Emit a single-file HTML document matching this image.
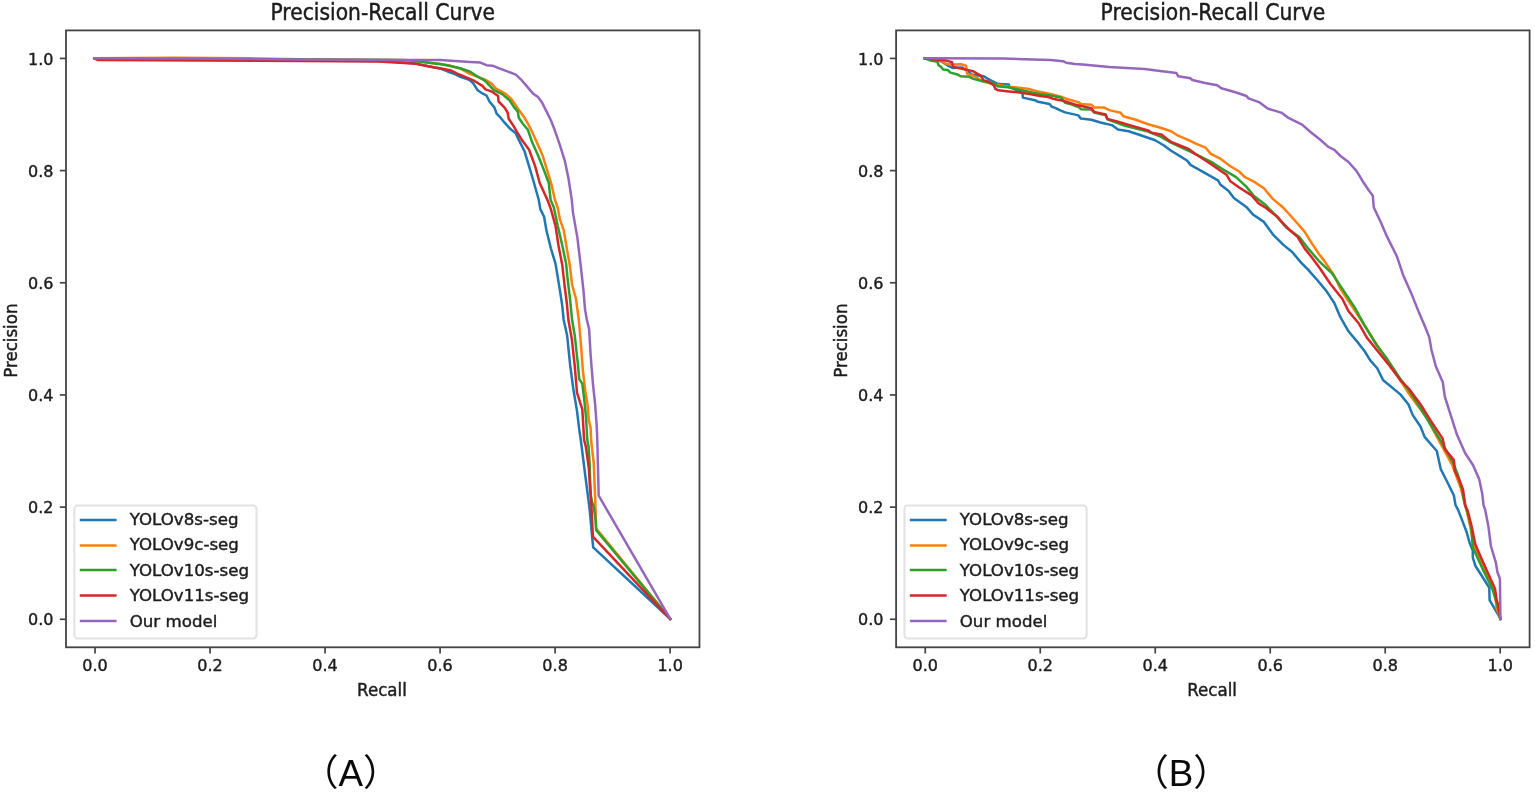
<!DOCTYPE html>
<html lang="en">
<head>
<meta charset="utf-8">
<title>Precision-Recall Curve</title>
<style>
html,body{margin:0;padding:0;background:#fff;}
body{width:1535px;height:792px;overflow:hidden;position:relative;}
svg{position:absolute;left:0;top:0;display:block;}
text{font-family:"DejaVu Sans","Liberation Sans",sans-serif;fill:#1c1c1c;stroke:#1c1c1c;stroke-width:0.42px;}
.tk{font-size:16.67px;}
.ttl{font-size:20px;}
.cap{font-family:"Liberation Sans","Noto Sans CJK JP",sans-serif;font-size:36.8px;fill:#0a0a0a;stroke:none;}
.ln{fill:none;stroke-width:2.5;stroke-linejoin:round;stroke-linecap:square;}
.tkm{fill:none;stroke:#444444;stroke-width:1.7;stroke-linecap:butt;}
.ax{fill:none;stroke:#444444;stroke-width:1.8;stroke-linecap:square;}
</style>
</head>
<body>
<svg width="1535" height="792" viewBox="0 0 1535 792">
<rect x="0" y="0" width="1535" height="792" fill="#ffffff"/>

<g id="plot1">
<polyline class="ln" stroke="#1f77b4" points="94.3,58.4 174.0,58.8 300.0,60.2 378.0,61.0 400.0,62.2 415.7,63.6 428.2,66.3 440.0,68.4 448.1,71.7 454.1,73.7 460.2,76.8 469.3,79.8 473.3,83.3 477.4,89.9 482.4,93.4 486.5,95.5 489.5,101.5 494.5,107.6 496.6,113.6 500.6,117.7 504.6,122.7 510.7,129.3 515.5,133.0 519.2,140.6 524.5,151.2 529.1,166.4 533.6,181.5 538.8,200.0 540.3,209.1 544.1,216.7 546.4,230.3 550.9,248.5 555.5,263.6 560.0,290.9 562.3,306.1 563.7,320.0 567.1,335.2 570.2,365.5 573.2,388.2 577.0,410.9 579.2,429.1 580.8,440.0 584.7,471.0 589.6,508.8 592.1,536.7 593.2,547.4 670.2,618.9"/>
<polyline class="ln" stroke="#ff7f0e" points="94.3,58.3 174.0,57.8 250.0,58.3 300.0,59.3 393.8,59.9 409.4,60.3 434.5,63.3 440.0,63.9 450.1,65.6 460.2,68.6 464.2,70.7 469.3,73.7 484.4,79.3 491.5,83.3 495.6,88.4 505.7,93.9 511.7,99.5 518.8,109.6 523.8,116.7 527.9,123.7 530.9,129.3 536.7,142.1 542.7,155.8 547.3,170.9 551.1,183.0 555.0,200.0 557.7,207.6 560.0,219.7 563.8,230.3 566.8,248.5 569.8,265.2 572.1,284.8 575.9,298.5 578.8,320.0 580.8,342.7 583.0,371.5 585.3,391.2 587.6,404.8 588.8,420.0 590.6,427.6 591.1,440.0 593.7,462.8 595.4,503.9 596.2,528.5 670.2,618.9"/>
<polyline class="ln" stroke="#2ca02c" points="94.3,58.4 170.0,59.4 200.0,59.6 300.0,59.6 393.8,60.0 409.4,60.3 434.5,63.5 440.0,64.1 450.1,66.0 460.2,68.2 470.3,71.7 475.4,75.3 484.4,80.3 489.5,85.4 493.5,89.9 502.6,94.4 509.7,100.5 513.7,106.6 517.8,111.6 518.8,117.7 522.8,123.7 527.9,129.8 532.1,142.1 538.2,155.8 544.2,170.9 548.8,183.0 550.6,200.0 553.9,207.6 557.7,225.8 562.3,245.5 566.1,263.6 567.6,278.8 569.8,297.0 572.1,320.0 574.7,335.2 577.7,362.4 579.2,379.1 582.3,383.6 584.5,401.8 586.1,418.5 587.3,440.0 588.5,446.4 589.6,462.8 590.1,479.3 590.9,495.7 592.1,502.2 593.7,506.4 595.4,518.7 596.2,530.2 670.2,618.9"/>
<polyline class="ln" stroke="#d62728" points="94.3,58.4 97.5,60.0 200.0,60.5 300.0,61.0 378.2,61.5 400.0,62.7 415.7,63.8 434.5,67.4 440.0,68.2 450.1,70.2 457.2,73.7 465.3,76.8 473.3,80.3 482.4,85.9 485.5,89.4 492.5,91.9 498.1,96.0 498.6,101.5 504.6,107.6 507.7,112.6 508.7,118.7 512.7,124.7 515.8,129.8 518.5,134.5 522.3,140.6 529.1,149.7 535.2,166.4 539.7,183.0 547.5,200.0 550.9,209.1 555.5,225.8 558.5,245.5 562.3,265.2 564.5,284.8 566.8,303.0 568.4,320.0 571.7,338.2 574.7,365.5 577.0,392.7 582.3,409.4 583.3,426.1 584.1,440.0 585.8,446.4 588.8,467.8 590.0,487.5 591.3,503.9 592.1,520.3 592.9,536.7 670.2,618.9"/>
<polyline class="ln" stroke="#9467bd" points="94.3,58.3 200.0,58.6 300.0,59.4 393.8,59.9 440.0,60.1 455.2,60.9 470.3,61.9 480.4,62.6 486.5,65.2 492.5,65.7 498.6,68.2 506.7,71.2 515.8,74.7 520.8,79.3 526.9,86.4 532.9,93.4 538.0,97.0 542.0,102.5 547.1,112.6 551.1,120.7 554.6,129.8 559.4,143.6 564.7,160.3 568.5,178.5 571.8,200.0 572.9,212.1 577.4,237.9 580.5,263.6 583.5,290.9 585.0,309.1 586.9,320.0 589.1,329.1 590.6,354.8 592.9,383.6 595.2,404.8 596.7,426.1 597.3,440.0 598.7,495.7 670.2,618.9"/>
<line class="tkm" x1="95.05" y1="647.3" x2="95.05" y2="653.50"/>
<line class="tkm" x1="66.0" y1="619.26" x2="59.80" y2="619.26"/>
<text class="tk" transform="translate(95.05 670.96) scale(0.96 1.0)" text-anchor="middle">0.0</text>
<text class="tk" transform="translate(53.44 625.46) scale(0.96 1.0)" text-anchor="end">0.0</text>
<line class="tkm" x1="210.06" y1="647.3" x2="210.06" y2="653.50"/>
<line class="tkm" x1="66.0" y1="507.10" x2="59.80" y2="507.10"/>
<text class="tk" transform="translate(210.06 670.96) scale(0.96 1.0)" text-anchor="middle">0.2</text>
<text class="tk" transform="translate(53.44 513.30) scale(0.96 1.0)" text-anchor="end">0.2</text>
<line class="tkm" x1="325.07" y1="647.3" x2="325.07" y2="653.50"/>
<line class="tkm" x1="66.0" y1="394.93" x2="59.80" y2="394.93"/>
<text class="tk" transform="translate(325.07 670.96) scale(0.96 1.0)" text-anchor="middle">0.4</text>
<text class="tk" transform="translate(53.44 401.13) scale(0.96 1.0)" text-anchor="end">0.4</text>
<line class="tkm" x1="440.08" y1="647.3" x2="440.08" y2="653.50"/>
<line class="tkm" x1="66.0" y1="282.77" x2="59.80" y2="282.77"/>
<text class="tk" transform="translate(440.08 670.96) scale(0.96 1.0)" text-anchor="middle">0.6</text>
<text class="tk" transform="translate(53.44 288.97) scale(0.96 1.0)" text-anchor="end">0.6</text>
<line class="tkm" x1="555.09" y1="647.3" x2="555.09" y2="653.50"/>
<line class="tkm" x1="66.0" y1="170.60" x2="59.80" y2="170.60"/>
<text class="tk" transform="translate(555.09 670.96) scale(0.96 1.0)" text-anchor="middle">0.8</text>
<text class="tk" transform="translate(53.44 176.80) scale(0.96 1.0)" text-anchor="end">0.8</text>
<line class="tkm" x1="670.10" y1="647.3" x2="670.10" y2="653.50"/>
<line class="tkm" x1="66.0" y1="58.44" x2="59.80" y2="58.44"/>
<text class="tk" transform="translate(670.10 670.96) scale(0.96 1.0)" text-anchor="middle">1.0</text>
<text class="tk" transform="translate(53.44 64.64) scale(0.96 1.0)" text-anchor="end">1.0</text>
<rect class="ax" x="66.0" y="30.4" width="633.47" height="616.90"/>
<text class="ttl" transform="translate(382.74 19.50) scale(1.015 1.12)" text-anchor="middle">Precision-Recall Curve</text>
<text class="tk" transform="translate(381.94 695.80) scale(1.0 1.06)" text-anchor="middle">Recall</text>
<text class="tk" transform="translate(17.00 340.65) rotate(-90) scale(1.0 1.06)" text-anchor="middle">Precision</text>
<rect x="74.33" y="505.60" width="182.2" height="132.8" rx="3.3" ry="3.3" fill="#ffffff" fill-opacity="0.8" stroke="#e2e2e2" stroke-width="2.0"/>
<line x1="81.00" y1="519.90" x2="115.33" y2="519.90" stroke="#1f77b4" stroke-width="2.5" stroke-linecap="square"/>
<text class="tk" transform="translate(129.66 524.70) scale(1.0 0.97)">YOLOv8s-seg</text>
<line x1="81.00" y1="545.50" x2="115.33" y2="545.50" stroke="#ff7f0e" stroke-width="2.5" stroke-linecap="square"/>
<text class="tk" transform="translate(129.66 550.00) scale(1.0 0.97)">YOLOv9c-seg</text>
<line x1="81.00" y1="569.90" x2="115.33" y2="569.90" stroke="#2ca02c" stroke-width="2.5" stroke-linecap="square"/>
<text class="tk" transform="translate(129.66 575.70) scale(1.0 0.97)">YOLOv10s-seg</text>
<line x1="81.00" y1="595.50" x2="115.33" y2="595.50" stroke="#d62728" stroke-width="2.5" stroke-linecap="square"/>
<text class="tk" transform="translate(129.66 601.20) scale(1.0 0.97)">YOLOv11s-seg</text>
<line x1="81.00" y1="621.00" x2="115.33" y2="621.00" stroke="#9467bd" stroke-width="2.5" stroke-linecap="square"/>
<text class="tk" transform="translate(129.66 626.50) scale(1.0 0.97)">Our model</text>
</g>
<g id="plot2">
<polyline class="ln" stroke="#1f77b4" points="924.8,58.3 935.8,59.8 941.1,61.3 948.4,65.9 952.5,67.9 961.9,67.4 966.0,70.0 972.3,74.7 983.8,76.3 988.0,78.9 994.2,82.0 998.4,84.1 1008.8,84.6 1009.3,86.7 1022.4,92.9 1022.9,97.6 1034.9,100.2 1038.0,101.8 1049.5,103.9 1051.5,106.5 1055.7,108.1 1060.9,110.7 1065.1,112.4 1078.3,115.4 1080.9,118.6 1091.5,119.8 1100.4,122.5 1111.8,125.1 1118.0,129.5 1128.6,131.3 1139.2,134.8 1155.2,140.2 1164.0,145.5 1171.1,150.8 1179.9,156.1 1187.0,160.5 1190.5,164.9 1197.6,168.8 1205.6,173.3 1218.0,180.4 1220.6,184.8 1228.6,191.0 1233.9,198.1 1246.3,206.9 1253.3,214.8 1263.9,221.9 1272.8,234.3 1283.4,244.9 1292.2,252.0 1301.1,262.6 1308.1,269.7 1316.2,278.8 1326.3,290.9 1334.3,303.0 1340.4,317.2 1348.5,331.3 1358.6,343.4 1364.5,351.0 1370.1,360.1 1377.2,368.2 1383.2,380.3 1400.4,394.4 1408.5,404.5 1412.5,414.6 1420.6,426.8 1424.6,436.9 1436.8,451.0 1440.8,469.2 1446.9,481.3 1453.9,495.5 1455.5,505.0 1458.1,509.9 1461.3,518.1 1466.3,531.2 1469.6,542.7 1472.8,550.9 1472.8,557.5 1475.3,565.7 1482.7,577.2 1489.3,587.8 1489.6,600.2 1498.3,614.9 1500.4,618.9"/>
<polyline class="ln" stroke="#ff7f0e" points="924.8,58.3 935.8,59.4 941.1,60.6 946.3,63.9 952.5,64.6 960.9,64.3 966.1,65.8 967.1,73.7 973.4,75.7 982.8,81.5 995.0,84.5 1008.8,86.7 1019.2,87.7 1027.6,88.8 1038.0,91.4 1050.5,94.0 1060.9,96.6 1066.1,98.7 1078.3,102.1 1080.9,103.9 1091.5,104.8 1094.2,107.4 1103.9,107.4 1109.2,110.1 1120.7,112.8 1123.3,116.3 1135.7,119.8 1148.1,124.2 1160.5,127.8 1171.1,131.3 1178.1,135.7 1188.7,140.2 1195.8,143.7 1205.6,147.7 1210.9,153.9 1219.7,158.3 1230.4,166.2 1239.2,171.5 1244.5,176.8 1253.3,181.3 1263.9,188.3 1272.8,198.9 1283.4,207.8 1292.2,217.5 1304.6,231.6 1311.7,243.1 1318.7,253.7 1324.2,260.6 1334.3,275.8 1340.4,288.9 1348.5,301.0 1360.6,319.2 1374.7,341.4 1386.9,359.6 1399.0,378.0 1408.0,392.4 1426.0,416.7 1440.2,442.9 1452.3,465.2 1461.2,489.4 1464.6,503.5 1467.0,512.0 1470.5,528.0 1473.5,545.0 1480.0,559.0 1487.0,574.0 1494.5,591.0 1496.7,608.4 1500.4,618.9"/>
<polyline class="ln" stroke="#2ca02c" points="924.8,58.3 930.6,60.6 937.4,61.7 938.5,65.3 941.1,66.9 943.1,69.5 947.8,70.0 950.4,72.6 956.7,74.2 960.9,76.3 969.2,76.8 973.4,78.9 981.7,81.0 988.0,82.0 994.2,83.6 997.3,86.2 1007.8,87.2 1019.2,89.8 1029.7,91.9 1040.1,94.0 1050.5,95.6 1060.9,97.6 1065.1,102.8 1071.3,104.4 1079.1,107.4 1080.9,109.2 1091.5,109.6 1094.2,112.6 1105.7,115.2 1107.4,119.3 1125.1,125.7 1148.1,131.6 1160.5,136.6 1171.1,142.6 1188.7,150.8 1195.0,153.9 1212.7,162.7 1225.1,170.7 1235.7,176.8 1246.3,186.6 1253.3,195.4 1265.7,205.1 1277.2,217.2 1286.9,228.1 1299.3,236.9 1308.1,248.4 1318.7,260.8 1332.3,273.7 1342.4,288.9 1354.5,307.1 1364.6,325.3 1376.8,345.5 1386.9,358.6 1400.0,378.5 1408.5,389.6 1420.6,408.6 1440.8,440.9 1452.9,462.1 1458.0,475.3 1462.0,489.4 1465.0,505.0 1467.3,511.5 1471.4,527.9 1472.8,547.6 1482.7,569.0 1492.5,589.5 1497.0,604.0 1500.4,618.9"/>
<polyline class="ln" stroke="#d62728" points="924.8,58.3 935.8,59.6 946.3,60.6 952.0,62.2 953.0,66.9 960.9,68.5 972.9,71.1 980.7,75.7 983.8,80.4 988.0,81.5 993.7,85.1 995.3,88.8 998.4,90.3 1008.8,91.4 1019.2,92.4 1029.7,94.0 1040.1,96.1 1048.4,97.1 1052.6,98.7 1063.0,100.8 1075.6,104.8 1091.5,108.3 1094.2,111.9 1105.7,114.5 1107.4,118.9 1118.0,121.6 1135.7,126.9 1148.1,130.4 1151.6,132.7 1161.3,134.5 1171.1,141.9 1179.9,145.5 1188.7,149.0 1195.8,154.3 1207.4,161.8 1218.0,168.9 1226.8,175.1 1230.4,181.3 1239.2,187.5 1251.6,195.4 1258.6,203.4 1265.7,207.8 1277.2,216.6 1283.4,223.7 1290.5,230.8 1297.5,236.9 1304.6,248.4 1311.7,257.3 1320.2,268.7 1330.3,283.8 1342.4,299.0 1348.5,311.1 1358.6,323.2 1366.7,337.4 1377.0,350.2 1388.3,364.1 1400.4,380.3 1409.5,389.4 1420.6,404.5 1430.7,420.7 1442.8,438.9 1444.8,449.0 1453.9,460.1 1454.9,471.2 1459.0,479.3 1463.0,489.4 1465.2,505.0 1467.9,511.5 1472.0,527.9 1475.3,544.3 1481.0,557.5 1487.6,572.2 1495.0,588.7 1496.7,600.2 1498.3,605.1 1500.4,618.9"/>
<polyline class="ln" stroke="#9467bd" points="924.8,58.3 1003.6,58.6 1050.5,60.1 1063.0,61.2 1066.1,62.7 1075.0,64.0 1082.7,64.5 1109.2,67.1 1144.5,68.9 1162.2,71.2 1176.4,73.0 1178.1,76.2 1190.5,78.3 1192.3,80.0 1205.1,83.0 1217.2,85.3 1221.3,88.3 1235.4,92.3 1246.5,96.0 1248.5,98.4 1259.6,102.4 1267.7,108.5 1281.9,112.9 1287.9,117.6 1302.1,124.6 1310.2,131.7 1320.3,139.8 1328.3,146.9 1334.4,149.9 1340.5,156.0 1348.5,162.0 1356.6,171.1 1362.7,181.2 1368.7,190.3 1372.8,195.8 1373.8,207.5 1380.8,222.2 1386.9,236.4 1397.0,256.6 1403.0,274.7 1411.1,292.9 1419.2,313.1 1425.3,327.3 1429.3,337.4 1431.5,350.0 1435.8,366.2 1442.8,382.3 1444.8,396.5 1449.9,412.6 1457.0,434.8 1465.1,453.0 1473.1,465.2 1479.2,479.3 1482.2,493.4 1483.5,505.0 1485.2,509.9 1488.4,526.3 1490.9,546.0 1495.8,562.4 1497.5,572.2 1499.9,578.8 1500.4,618.9"/>
<line class="tkm" x1="925.25" y1="647.3" x2="925.25" y2="653.50"/>
<line class="tkm" x1="896.1" y1="619.26" x2="889.90" y2="619.26"/>
<text class="tk" transform="translate(925.25 670.96) scale(0.96 1.0)" text-anchor="middle">0.0</text>
<text class="tk" transform="translate(883.54 625.46) scale(0.96 1.0)" text-anchor="end">0.0</text>
<line class="tkm" x1="1040.24" y1="647.3" x2="1040.24" y2="653.50"/>
<line class="tkm" x1="896.1" y1="507.10" x2="889.90" y2="507.10"/>
<text class="tk" transform="translate(1040.24 670.96) scale(0.96 1.0)" text-anchor="middle">0.2</text>
<text class="tk" transform="translate(883.54 513.30) scale(0.96 1.0)" text-anchor="end">0.2</text>
<line class="tkm" x1="1155.23" y1="647.3" x2="1155.23" y2="653.50"/>
<line class="tkm" x1="896.1" y1="394.93" x2="889.90" y2="394.93"/>
<text class="tk" transform="translate(1155.23 670.96) scale(0.96 1.0)" text-anchor="middle">0.4</text>
<text class="tk" transform="translate(883.54 401.13) scale(0.96 1.0)" text-anchor="end">0.4</text>
<line class="tkm" x1="1270.22" y1="647.3" x2="1270.22" y2="653.50"/>
<line class="tkm" x1="896.1" y1="282.77" x2="889.90" y2="282.77"/>
<text class="tk" transform="translate(1270.22 670.96) scale(0.96 1.0)" text-anchor="middle">0.6</text>
<text class="tk" transform="translate(883.54 288.97) scale(0.96 1.0)" text-anchor="end">0.6</text>
<line class="tkm" x1="1385.21" y1="647.3" x2="1385.21" y2="653.50"/>
<line class="tkm" x1="896.1" y1="170.60" x2="889.90" y2="170.60"/>
<text class="tk" transform="translate(1385.21 670.96) scale(0.96 1.0)" text-anchor="middle">0.8</text>
<text class="tk" transform="translate(883.54 176.80) scale(0.96 1.0)" text-anchor="end">0.8</text>
<line class="tkm" x1="1500.20" y1="647.3" x2="1500.20" y2="653.50"/>
<line class="tkm" x1="896.1" y1="58.44" x2="889.90" y2="58.44"/>
<text class="tk" transform="translate(1500.20 670.96) scale(0.96 1.0)" text-anchor="middle">1.0</text>
<text class="tk" transform="translate(883.54 64.64) scale(0.96 1.0)" text-anchor="end">1.0</text>
<rect class="ax" x="896.1" y="30.4" width="633.50" height="616.90"/>
<text class="ttl" transform="translate(1212.85 19.50) scale(1.015 1.12)" text-anchor="middle">Precision-Recall Curve</text>
<text class="tk" transform="translate(1212.05 695.80) scale(1.0 1.06)" text-anchor="middle">Recall</text>
<text class="tk" transform="translate(847.10 340.65) rotate(-90) scale(1.0 1.06)" text-anchor="middle">Precision</text>
<rect x="904.43" y="505.60" width="182.2" height="132.8" rx="3.3" ry="3.3" fill="#ffffff" fill-opacity="0.8" stroke="#e2e2e2" stroke-width="2.0"/>
<line x1="911.10" y1="519.90" x2="945.43" y2="519.90" stroke="#1f77b4" stroke-width="2.5" stroke-linecap="square"/>
<text class="tk" transform="translate(959.76 524.70) scale(1.0 0.97)">YOLOv8s-seg</text>
<line x1="911.10" y1="545.50" x2="945.43" y2="545.50" stroke="#ff7f0e" stroke-width="2.5" stroke-linecap="square"/>
<text class="tk" transform="translate(959.76 550.00) scale(1.0 0.97)">YOLOv9c-seg</text>
<line x1="911.10" y1="569.90" x2="945.43" y2="569.90" stroke="#2ca02c" stroke-width="2.5" stroke-linecap="square"/>
<text class="tk" transform="translate(959.76 575.70) scale(1.0 0.97)">YOLOv10s-seg</text>
<line x1="911.10" y1="595.50" x2="945.43" y2="595.50" stroke="#d62728" stroke-width="2.5" stroke-linecap="square"/>
<text class="tk" transform="translate(959.76 601.20) scale(1.0 0.97)">YOLOv11s-seg</text>
<line x1="911.10" y1="621.00" x2="945.43" y2="621.00" stroke="#9467bd" stroke-width="2.5" stroke-linecap="square"/>
<text class="tk" transform="translate(959.76 626.50) scale(1.0 0.97)">Our model</text>
</g>
<text class="cap" x="350.7" y="785.7" text-anchor="middle">（A）</text>
<text class="cap" x="1181.0" y="785.7" text-anchor="middle">（B）</text>
</svg>
</body>
</html>
